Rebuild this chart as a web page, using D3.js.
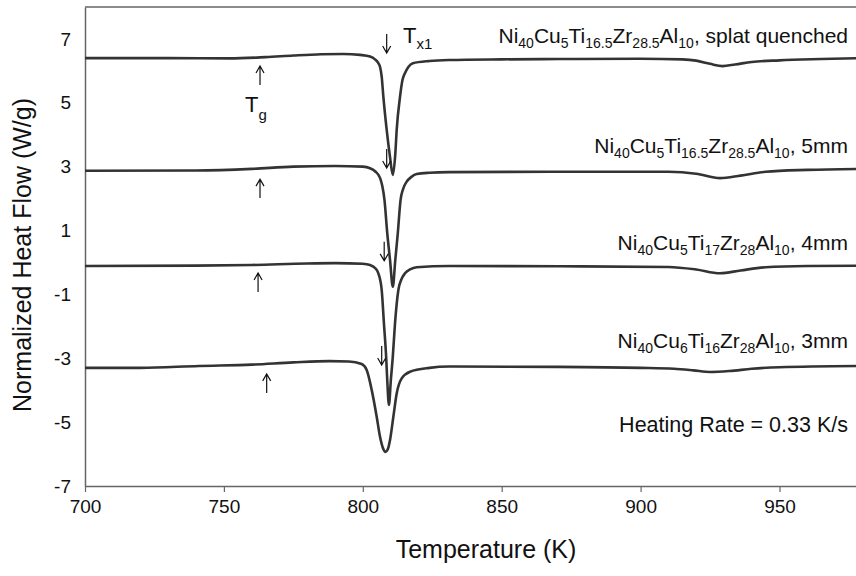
<!DOCTYPE html>
<html>
<head>
<meta charset="utf-8">
<script src="https://cdn.jsdelivr.net/npm/d3@7"></script>
<style>
  body { margin: 0; background: #fff; }
  text { font-family: "Liberation Sans", Arial, sans-serif; fill: #111; }
</style>
</head>
<body>
<script>
// DSC traces, temperature (K) vs normalized heat flow (W/g)
const splatT = [700, 730, 752, 765, 775, 785, 793, 799, 802.6, 804.4, 805.6, 806.2, 806.8, 807.4, 808.6, 809.8, 810.8, 811.7, 812.2, 813.4, 814.3, 815.2, 816.4, 818, 824, 831, 850, 871, 900, 915, 920, 925, 929.5, 934, 940, 950, 965, 980];
const splatQ = [6.40, 6.40, 6.39, 6.43, 6.48, 6.52, 6.53, 6.50, 6.45, 6.36, 6.24, 6.13, 5.82, 5.19, 4.15, 3.30, 2.74, 3.40, 4.15, 5.19, 5.72, 5.93, 6.12, 6.24, 6.31, 6.34, 6.36, 6.37, 6.38, 6.36, 6.32, 6.22, 6.15, 6.20, 6.28, 6.33, 6.37, 6.40];

const mm5T = [700, 740, 760, 775, 790, 800, 802.6, 804.5, 806.2, 807, 807.8, 808.8, 809.8, 810.8, 811.7, 812.6, 813.6, 814.5, 815.8, 817.5, 819.4, 824, 831, 871, 910, 920, 928.6, 936, 945, 960, 980];
const mm5Q = [2.87, 2.88, 2.93, 3.00, 3.02, 3.00, 2.95, 2.85, 2.65, 2.40, 1.96, 0.92, 0.08, -0.76, 0.08, 0.92, 1.96, 2.30, 2.53, 2.68, 2.77, 2.81, 2.83, 2.84, 2.84, 2.78, 2.64, 2.72, 2.84, 2.90, 2.93];

const mm4T = [700, 740, 760, 780, 790, 800, 802.6, 804.5, 805.6, 806.8, 807.6, 808.4, 808.8, 809.4, 810.1, 810.8, 811.6, 812.8, 813.8, 815.2, 817, 819.4, 831, 871, 910, 920, 928.6, 936, 945, 960, 980];
const mm4Q = [-0.11, -0.10, -0.08, -0.03, -0.02, -0.04, -0.08, -0.18, -0.34, -0.86, -1.90, -2.95, -3.68, -4.46, -3.68, -2.95, -1.90, -0.86, -0.55, -0.34, -0.22, -0.15, -0.11, -0.12, -0.14, -0.22, -0.34, -0.25, -0.15, -0.11, -0.10];

const mm3T = [700, 720, 741, 760, 775, 788, 795, 799.6, 801.4, 803.2, 805, 806.2, 807.2, 808.2, 809, 809.8, 811, 812.2, 814, 817, 824, 831, 870, 900, 912, 919, 925, 932, 940, 950, 980];
const mm3Q = [-3.30, -3.30, -3.24, -3.20, -3.13, -3.09, -3.10, -3.18, -3.37, -3.99, -4.83, -5.46, -5.80, -5.93, -5.85, -5.56, -4.83, -4.10, -3.63, -3.42, -3.30, -3.26, -3.27, -3.30, -3.33, -3.38, -3.43, -3.40, -3.33, -3.28, -3.24];

const series = [
  { T: splatT, Q: splatQ },
  { T: mm5T, Q: mm5Q },
  { T: mm4T, Q: mm4Q },
  { T: mm3T, Q: mm3Q }
];

// curve labels: [text, subscript] pieces, and the value their baseline sits at
const labels = [
  [["Ni", "40"], ["Cu", "5"], ["Ti", "16.5"], ["Zr", "28.5"], ["Al", "10"], [", splat quenched", ""]],
  [["Ni", "40"], ["Cu", "5"], ["Ti", "16.5"], ["Zr", "28.5"], ["Al", "10"], [", 5mm", ""]],
  [["Ni", "40"], ["Cu", "5"], ["Ti", "17"], ["Zr", "28"], ["Al", "10"], [", 4mm", ""]],
  [["Ni", "40"], ["Cu", "6"], ["Ti", "16"], ["Zr", "28"], ["Al", "10"], [", 3mm", ""]]
];
const labelQ = [6.87, 3.43, 0.39, -2.68];

// arrow tips: Tg (pointing up) and Tx1 (pointing down)
const tgT = [763, 763, 762.3, 765.4];
const tgQ = [6.15, 2.61, -0.33, -3.49];
const txT = [808.6, 808.6, 807.7, 806.8];
const txQ = [6.56, 2.96, 0.05, -3.21];

const xTicks = [700, 750, 800, 850, 900, 950];
const yTicks = [-7, -5, -3, -1, 1, 3, 5, 7];

const width = 856, height = 576;
const margin = { top: 7, left: 85, bottom: 90 };

const x = d3.scaleLinear().domain([700, 980]).range([margin.left, margin.left + 280 * 2.778]);
const y = d3.scaleLinear().domain([-7, 8]).range([height - margin.bottom, margin.top]);

const svg = d3.select("body").append("svg")
    .attr("width", width)
    .attr("height", height);

// frame: top line, left and bottom axes
svg.append("line")
    .attr("x1", x(700)).attr("x2", width)
    .attr("y1", y(8)).attr("y2", y(8))
    .attr("stroke", "#666").attr("stroke-width", 1.5);

const xAxis = svg.append("g")
    .attr("transform", `translate(0,${y(-7)})`)
    .call(d3.axisBottom(x).tickValues(xTicks).tickSize(6).tickPadding(8).tickSizeOuter(0));
xAxis.select(".domain").attr("stroke", "#666").attr("stroke-width", 1.5);
xAxis.selectAll(".tick line").attr("stroke", "#666").attr("stroke-width", 1.2);
xAxis.selectAll(".tick text").attr("font-size", 19).attr("fill", "#111")
    .style("font-family", "Liberation Sans, Arial, sans-serif");

const yAxis = svg.append("g")
    .attr("transform", `translate(${x(700)},0)`)
    .call(d3.axisLeft(y).tickValues(yTicks).tickFormat(d => `${d}`)
      .tickSize(0).tickPadding(14).tickSizeOuter(0));
yAxis.select(".domain").attr("stroke", "#666").attr("stroke-width", 1.5);
yAxis.selectAll(".tick text").attr("font-size", 19).attr("fill", "#111")
    .style("font-family", "Liberation Sans, Arial, sans-serif");

svg.append("text")
    .attr("x", 486).attr("y", 558)
    .attr("text-anchor", "middle")
    .attr("font-size", 25)
    .text("Temperature (K)");

svg.append("text")
    .attr("transform", "translate(31,255) rotate(-90)")
    .attr("text-anchor", "middle")
    .attr("font-size", 25)
    .text("Normalized Heat Flow (W/g)");

// traces
const line = d3.line()
    .x(d => x(d[0]))
    .y(d => y(d[1]))
    .curve(d3.curveMonotoneX);

svg.append("defs").append("clipPath").attr("id", "plot")
  .append("rect")
    .attr("x", x(700)).attr("y", y(8))
    .attr("width", width - x(700)).attr("height", y(-7) - y(8));

svg.append("g")
    .attr("clip-path", "url(#plot)")
  .selectAll("path")
  .data(series)
  .join("path")
    .attr("d", s => line(s.T.map((t, i) => [t, s.Q[i]])))
    .attr("fill", "none")
    .attr("stroke", "#333")
    .attr("stroke-width", 2.6);

// curve labels with subscripts
labels.forEach((parts, i) => {
  const t = svg.append("text")
      .attr("x", 848).attr("y", y(labelQ[i]))
      .attr("text-anchor", "end")
      .attr("font-size", 21);
  let back = 0;
  parts.forEach(p => {
    t.append("tspan").attr("dy", -back).text(p[0]);
    back = 0;
    if (p[1]) {
      t.append("tspan").attr("font-size", 14).attr("dy", 5).text(p[1]);
      back = 5;
    }
  });
});

svg.append("text")
    .attr("x", 848).attr("y", y(-5.31))
    .attr("text-anchor", "end")
    .attr("font-size", 21.5)
    .text("Heating Rate = 0.33 K/s");

// T_g and T_x1 symbols
const tg = svg.append("text").attr("x", 245).attr("y", 112).attr("font-size", 22);
tg.append("tspan").text("T");
tg.append("tspan").attr("font-size", 15).attr("dy", 8).text("g");

const tx = svg.append("text").attr("x", 403).attr("y", 43).attr("font-size", 22);
tx.append("tspan").text("T");
tx.append("tspan").attr("font-size", 15).attr("dy", 6).text("x1");

// arrows
function arrow(px, py, dir) {
  // dir = -1 points up (tip at top), 1 points down
  const len = 19, hw = 4, hh = 7;
  return `M${px},${py - dir * len}L${px},${py}` +
         `M${px - hw},${py - dir * hh}L${px},${py}L${px + hw},${py - dir * hh}`;
}

svg.append("g")
  .selectAll("path")
  .data(tgT.map((t, i) => [t, tgQ[i]]))
  .join("path")
    .attr("d", d => arrow(x(d[0]), y(d[1]), -1))
    .attr("fill", "none").attr("stroke", "#111").attr("stroke-width", 1.2);

svg.append("g")
  .selectAll("path")
  .data(txT.map((t, i) => [t, txQ[i]]))
  .join("path")
    .attr("d", d => arrow(x(d[0]), y(d[1]), 1))
    .attr("fill", "none").attr("stroke", "#111").attr("stroke-width", 1.2);
</script>
</body>
</html>
